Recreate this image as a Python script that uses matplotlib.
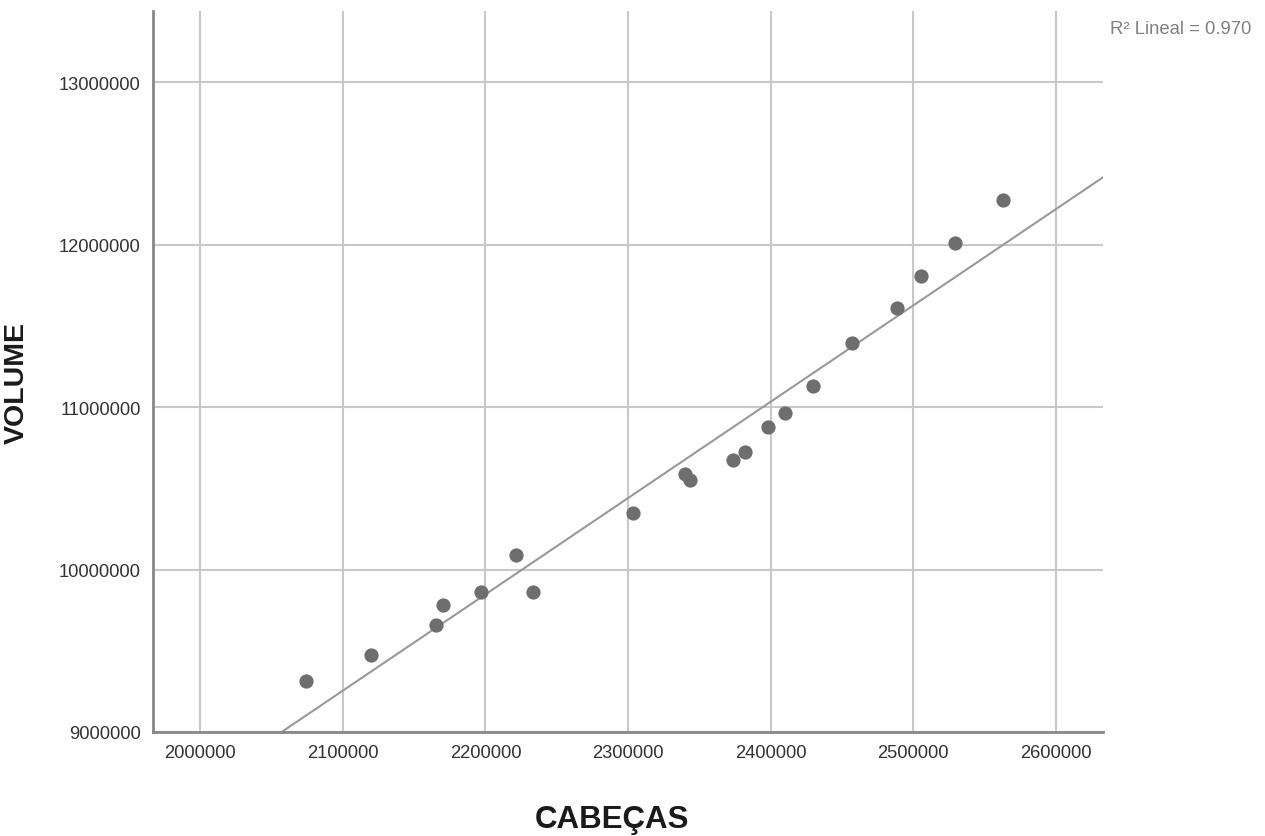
import numpy as np
import matplotlib.pyplot as plt

plt.rcParams['font.family'] = ['Liberation Sans', 'DejaVu Sans']

# Datos
cabecas = [2074300, 2119800, 2165400, 2170300, 2196900, 2221400, 2233400,
           2303400, 2339900, 2343400, 2373500, 2381900, 2398000, 2409900,
           2429600, 2456900, 2488400, 2505300, 2529100, 2562800]
volume = [9313800, 9473800, 9658500, 9781500, 9861500, 10089200, 9861500,
          10347700, 10587700, 10550800, 10673800, 10723100, 10876900, 10963100,
          11129200, 11393800, 11609200, 11806200, 12009200, 12273800]

xticks = [2000000, 2100000, 2200000, 2300000, 2400000, 2500000, 2600000]
yticks = [9000000, 10000000, 11000000, 12000000, 13000000]

fig = plt.figure(figsize=(12.65, 8.37), dpi=100)
ax = fig.add_axes([0.121, 0.1243, 0.751, 0.8614])

xlim = (1967000, 2633000)
ylim = (9000000, 13440000)
ax.set_xlim(xlim)
ax.set_ylim(ylim)

ax.grid(True, color='#c8c8c8', linewidth=1.5)
ax.set_axisbelow(True)

# Recta de regresión
b1, b0 = np.polyfit(cabecas, volume, 1)
xs = np.array(xlim)
ax.plot(xs, b0 + b1 * xs, color='#999999', linewidth=1.5, zorder=2)

ax.scatter(cabecas, volume, s=105, color='#6e6e6e', zorder=3, linewidths=0)

ax.set_xticks(xticks)
ax.set_yticks(yticks)
ax.set_xticklabels([str(t) for t in xticks])
ax.set_yticklabels([str(t) for t in yticks])
ax.tick_params(length=0, labelsize=13.2, labelcolor='#333333', pad=9)

for s in ['top', 'right']:
    ax.spines[s].set_visible(False)
for s in ['left', 'bottom']:
    ax.spines[s].set_color('#888888')
    ax.spines[s].set_linewidth(2)

fig.text(0.0135, 1 - 383 / 837, 'VOLUME', rotation=90, ha='center', va='center',
         fontsize=20.5, fontweight='bold', color='#1a1a1a')
fig.text(612 / 1265, 1 - 828 / 837, 'CABEÇAS', ha='center', va='baseline',
         fontsize=22.5, fontweight='bold', color='#1a1a1a')
fig.text(1110 / 1265, 1 - 29 / 837, 'R² Lineal = 0.970', ha='left', va='center',
         fontsize=13.3, color='#808080')

fig.savefig('out.png', dpi=100)
